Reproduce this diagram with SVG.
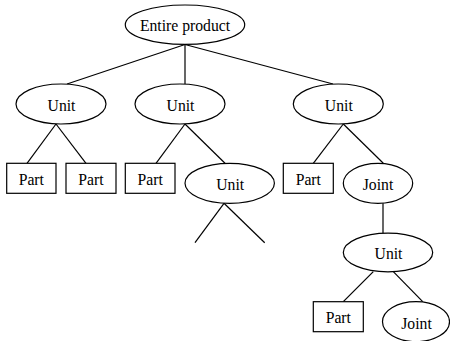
<svg xmlns="http://www.w3.org/2000/svg" width="450" height="341" viewBox="0 0 450 341">
  <style>
    .shape { fill: #fff; stroke: #000; stroke-width: 1.2; }
    .edge { stroke: #000; stroke-width: 1.2; fill: none; }
    text { font-family: "Liberation Serif", "Times New Roman", serif; font-size: 15.7px; text-anchor: middle; fill: #000; }
  </style>
  <rect width="450" height="341" fill="#fff"/>

  <g id="connectors">
    <line class="edge" x1="185" y1="44.5" x2="67" y2="84"/>
    <line class="edge" x1="185" y1="44.5" x2="185" y2="84"/>
    <line class="edge" x1="185" y1="44.5" x2="333" y2="84"/>
    <line class="edge" x1="56" y1="124" x2="27" y2="163.3"/>
    <line class="edge" x1="56" y1="124" x2="86" y2="163.3"/>
    <line class="edge" x1="185" y1="124" x2="156" y2="163.3"/>
    <line class="edge" x1="185" y1="124" x2="225" y2="163.3"/>
    <line class="edge" x1="224" y1="203.3" x2="195" y2="242.7"/>
    <line class="edge" x1="224" y1="203.3" x2="264.7" y2="242.7"/>
    <line class="edge" x1="343.3" y1="124" x2="313.3" y2="163.3"/>
    <line class="edge" x1="343.3" y1="124" x2="383.3" y2="163.3"/>
    <line class="edge" x1="383" y1="203.3" x2="383" y2="233.3"/>
    <line class="edge" x1="373.3" y1="271.7" x2="343.3" y2="301.7"/>
    <line class="edge" x1="393.3" y1="271.7" x2="422.7" y2="301.7"/>
  </g>

  <g id="entire-product">
    <ellipse class="shape" cx="185" cy="24.7" rx="59.7" ry="19.7"/>
    <text x="185" y="31.3">Entire product</text>
  </g>

  <g id="unit-a">
    <ellipse class="shape" cx="61" cy="104" rx="45" ry="20"/>
    <text x="61.5" y="110.8">Unit</text>
  </g>
  <g id="unit-b">
    <ellipse class="shape" cx="180" cy="104" rx="45" ry="20"/>
    <text x="180.5" y="110.8">Unit</text>
  </g>
  <g id="unit-c">
    <ellipse class="shape" cx="338.3" cy="104" rx="45" ry="20"/>
    <text x="338.8" y="110.8">Unit</text>
  </g>

  <g id="part-a1">
    <rect class="shape" x="6.7" y="163.3" width="49.3" height="30"/>
    <text x="31.3" y="185">Part</text>
  </g>
  <g id="part-a2">
    <rect class="shape" x="66" y="163.3" width="50" height="30"/>
    <text x="91" y="185">Part</text>
  </g>
  <g id="part-b1">
    <rect class="shape" x="125.3" y="163.3" width="49.7" height="30"/>
    <text x="150.2" y="185">Part</text>
  </g>
  <g id="unit-b2">
    <ellipse class="shape" cx="229.7" cy="183.3" rx="44.7" ry="20"/>
    <text x="230.2" y="190">Unit</text>
  </g>
  <g id="part-c1">
    <rect class="shape" x="283.3" y="163.3" width="50" height="30"/>
    <text x="308.3" y="185">Part</text>
  </g>
  <g id="joint-c2">
    <ellipse class="shape" cx="378" cy="183.3" rx="34.7" ry="20"/>
    <text x="378" y="190">Joint</text>
  </g>

  <g id="unit-d">
    <ellipse class="shape" cx="388" cy="252.5" rx="44.7" ry="19.3"/>
    <text x="388.5" y="259">Unit</text>
  </g>
  <g id="part-d1">
    <rect class="shape" x="313.3" y="301.7" width="50" height="30"/>
    <text x="338.3" y="323.3">Part</text>
  </g>
  <g id="joint-d2">
    <ellipse class="shape" cx="416" cy="321.7" rx="33.5" ry="20"/>
    <text x="416.5" y="328.5">Joint</text>
  </g>
</svg>
